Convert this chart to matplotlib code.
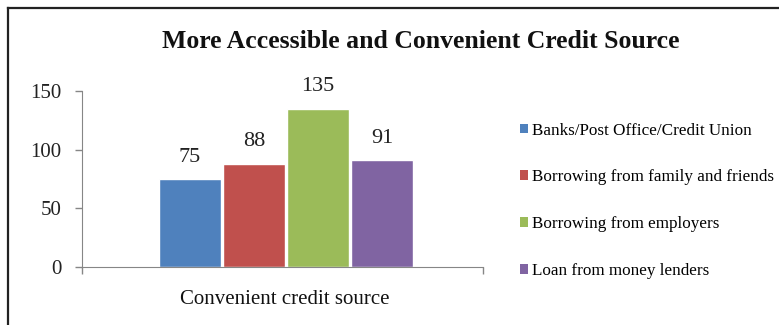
import matplotlib
matplotlib.use("Agg")
import matplotlib.pyplot as plt
from matplotlib.lines import Line2D
from matplotlib.patches import Patch

# Survey counts per credit source
sources = [
    "Banks/Post Office/Credit Union",
    "Borrowing from family and friends",
    "Borrowing from employers",
    "Loan from money lenders",
]
counts = [75, 88, 135, 91]
category = "Convenient credit source"
colors = ["#4F81BD", "#C0504D", "#9BBB59", "#8064A2"]

plt.rcParams["font.family"] = ["Liberation Serif", "DejaVu Serif"]

W, H = 779, 325
fig = plt.figure(figsize=(W / 100, H / 100), dpi=100)

# axes placed in pixel terms
x0, x1, y0, y1 = 82, 483, 267, 91
ax = fig.add_axes([x0 / W, 1 - y0 / H, (x1 - x0) / W, (y0 - y1) / H])

step = 64 / (x1 - x0)
width = 62 / (x1 - x0)
center = 0.509
for i, (lab, val, col) in enumerate(zip(sources, counts, colors)):
    xc = center + (i - 1.5) * step
    ax.bar(xc, val, width=width, color=col, edgecolor="white", linewidth=1, label=lab)
    ax.text(xc, val + 18.7, str(val), ha="center", va="center", fontsize=16, color="#222222")

ax.set_xlim(0, 1)
ax.set_ylim(0, 150)
ax.set_yticks([0, 50, 100, 150])
ax.set_xticks([0, 1])
ax.set_xticklabels(["", ""])
for s in ["top", "right"]:
    ax.spines[s].set_visible(False)
for s in ["left", "bottom"]:
    ax.spines[s].set_color("#868686")
ax.tick_params(axis="both", colors="#868686", length=5, width=1, labelcolor="#222222", labelsize=15)
ax.tick_params(axis="y", pad=10)

fig.text(285 / W, 1 - 299 / H, category, ha="center", va="center", fontsize=15, color="#111111")
fig.text(421 / W, 1 - 42 / H, "More Accessible and Convenient Credit Source",
         ha="center", va="center", fontsize=18.5, fontweight="bold", color="#111111")

handles = [Patch(facecolor=c, edgecolor="none") for c in colors]
fig.legend(handles, sources, loc="upper left", bbox_to_anchor=(511 / W, 1 - 114 / H),
           frameon=False, fontsize=12.3, labelspacing=1.8, handlelength=0.5,
           handleheight=0.5, handletextpad=0.2, borderpad=0)

# outer frame: top and left edges
fig.add_artist(Line2D([8 / W, 1], [1 - 8 / H, 1 - 8 / H], color="#222222", lw=1.6))
fig.add_artist(Line2D([8 / W, 8 / W], [0, 1 - 8 / H], color="#222222", lw=1.6))

fig.savefig("out.png", dpi=100)
